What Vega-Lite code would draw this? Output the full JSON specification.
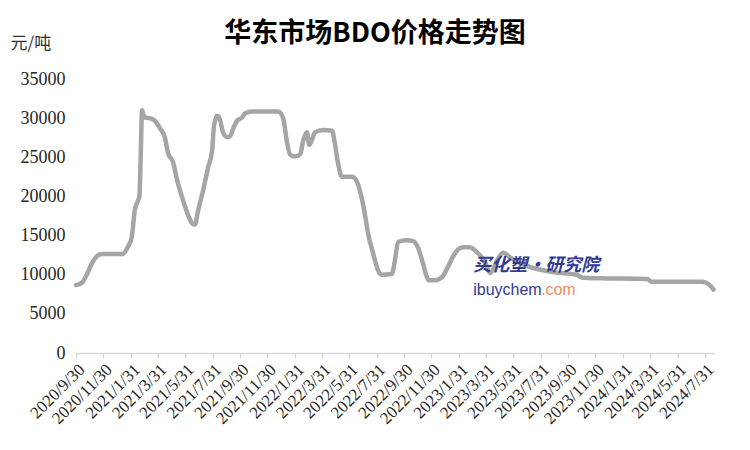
{
  "$schema": "https://vega.github.io/schema/vega-lite/v6.json",
  "width": 638,
  "height": 274,
  "autosize": {"type": "none"},
  "padding": {"left": 76, "top": 79, "right": 36, "bottom": 97},
  "background": "white",
  "title": {
    "text": "华东市场BDO价格走势图",
    "font": "Noto Sans CJK SC",
    "fontSize": 27,
    "fontWeight": "bold",
    "color": "#000000",
    "anchor": "middle",
    "frame": "group",
    "dx": -20,
    "offset": -14
  },
  "config": {"view": {"stroke": null}, "axis": {"labelOverlap": false}},
  "datasets": {
    "bdo": [
      {"date": "2020-09-30", "price": 8700},
      {"date": "2020-10-08", "price": 8800},
      {"date": "2020-10-15", "price": 9100},
      {"date": "2020-10-24", "price": 10000},
      {"date": "2020-11-05", "price": 11500},
      {"date": "2020-11-16", "price": 12400},
      {"date": "2020-11-27", "price": 12650},
      {"date": "2021-01-12", "price": 12650},
      {"date": "2021-01-23", "price": 13500},
      {"date": "2021-02-01", "price": 14800},
      {"date": "2021-02-08", "price": 18300},
      {"date": "2021-02-14", "price": 19300},
      {"date": "2021-02-18", "price": 20000},
      {"date": "2021-02-21", "price": 25000},
      {"date": "2021-02-24", "price": 31000},
      {"date": "2021-03-01", "price": 30100},
      {"date": "2021-03-12", "price": 30000},
      {"date": "2021-03-24", "price": 29700},
      {"date": "2021-04-05", "price": 28700},
      {"date": "2021-04-16", "price": 27500},
      {"date": "2021-04-23", "price": 25500},
      {"date": "2021-05-04", "price": 24400},
      {"date": "2021-05-13", "price": 22100},
      {"date": "2021-05-24", "price": 19900},
      {"date": "2021-06-04", "price": 18000},
      {"date": "2021-06-15", "price": 16600},
      {"date": "2021-06-22", "price": 16400},
      {"date": "2021-06-28", "price": 18000},
      {"date": "2021-07-10", "price": 20800},
      {"date": "2021-07-21", "price": 23700},
      {"date": "2021-07-30", "price": 25900},
      {"date": "2021-08-03", "price": 28900},
      {"date": "2021-08-10", "price": 30300},
      {"date": "2021-08-17", "price": 29700},
      {"date": "2021-08-23", "price": 28200},
      {"date": "2021-09-01", "price": 27600},
      {"date": "2021-09-08", "price": 27700},
      {"date": "2021-09-15", "price": 28700},
      {"date": "2021-09-24", "price": 29700},
      {"date": "2021-10-05", "price": 30100},
      {"date": "2021-10-11", "price": 30600},
      {"date": "2021-10-27", "price": 30850},
      {"date": "2021-12-24", "price": 30850},
      {"date": "2022-01-04", "price": 30000},
      {"date": "2022-01-13", "price": 26800},
      {"date": "2022-01-20", "price": 25300},
      {"date": "2022-01-31", "price": 25100},
      {"date": "2022-02-11", "price": 25400},
      {"date": "2022-02-18", "price": 27200},
      {"date": "2022-02-26", "price": 28200},
      {"date": "2022-03-03", "price": 26600},
      {"date": "2022-03-09", "price": 27200},
      {"date": "2022-03-16", "price": 28200},
      {"date": "2022-04-03", "price": 28500},
      {"date": "2022-04-23", "price": 28400},
      {"date": "2022-04-29", "price": 26800},
      {"date": "2022-05-06", "price": 24300},
      {"date": "2022-05-15", "price": 22500},
      {"date": "2022-06-07", "price": 22500},
      {"date": "2022-06-18", "price": 21800},
      {"date": "2022-06-29", "price": 19500},
      {"date": "2022-07-06", "price": 17400},
      {"date": "2022-07-12", "price": 15300},
      {"date": "2022-07-23", "price": 12800},
      {"date": "2022-08-03", "price": 10600},
      {"date": "2022-08-12", "price": 10000},
      {"date": "2022-09-03", "price": 10100},
      {"date": "2022-09-10", "price": 11900},
      {"date": "2022-09-17", "price": 14200},
      {"date": "2022-10-07", "price": 14400},
      {"date": "2022-10-20", "price": 14300},
      {"date": "2022-10-31", "price": 13500},
      {"date": "2022-11-11", "price": 11500},
      {"date": "2022-11-20", "price": 9700},
      {"date": "2022-11-24", "price": 9300},
      {"date": "2022-12-08", "price": 9300},
      {"date": "2022-12-24", "price": 9700},
      {"date": "2023-01-04", "price": 10800},
      {"date": "2023-01-17", "price": 12300},
      {"date": "2023-01-28", "price": 13200},
      {"date": "2023-02-08", "price": 13500},
      {"date": "2023-02-24", "price": 13500},
      {"date": "2023-03-07", "price": 13100},
      {"date": "2023-03-18", "price": 12500},
      {"date": "2023-03-30", "price": 11500},
      {"date": "2023-04-10", "price": 10200},
      {"date": "2023-04-25", "price": 11800},
      {"date": "2023-05-09", "price": 12800},
      {"date": "2023-05-24", "price": 12200},
      {"date": "2023-07-07", "price": 11000},
      {"date": "2023-08-31", "price": 10300},
      {"date": "2023-10-18", "price": 10000},
      {"date": "2023-11-04", "price": 9600},
      {"date": "2023-12-11", "price": 9550},
      {"date": "2024-03-24", "price": 9450},
      {"date": "2024-04-04", "price": 9100},
      {"date": "2024-07-26", "price": 9100},
      {"date": "2024-08-10", "price": 8700},
      {"date": "2024-08-19", "price": 8100}
    ],
    "logo_cn": [
      {"date": "2023-03-03", "price": 11100, "label": "买化塑·研究院"}
    ],
    "logo_en": [
      {"date": "2023-03-03", "price": 8050, "label": "ibuychem", "part": "a"},
      {"date": "2023-08-01", "price": 8050, "label": ".com", "part": "b"}
    ]
  },
  "layer": [
    {
      "data": {"name": "bdo"},
      "mark": {"type": "line", "color": "#a5a5a5", "strokeWidth": 4.5, "strokeCap": "round", "strokeJoin": "round", "interpolate": "monotone"},
      "encoding": {
        "x": {
          "field": "date",
          "type": "temporal",
          "scale": {
            "type": "utc",
            "domain": [
              {"year": 2020, "month": 9, "date": 30, "utc": true},
              {"year": 2024, "month": 8, "date": 20, "utc": true}
            ]
          },
          "axis": {
            "title": null,
            "tickCount": 40,
            "values": [
              {"year": 2020, "month": 9, "date": 30, "utc": true},
              {"year": 2020, "month": 11, "date": 30, "utc": true},
              {"year": 2021, "month": 1, "date": 31, "utc": true},
              {"year": 2021, "month": 3, "date": 31, "utc": true},
              {"year": 2021, "month": 5, "date": 31, "utc": true},
              {"year": 2021, "month": 7, "date": 31, "utc": true},
              {"year": 2021, "month": 9, "date": 30, "utc": true},
              {"year": 2021, "month": 11, "date": 30, "utc": true},
              {"year": 2022, "month": 1, "date": 31, "utc": true},
              {"year": 2022, "month": 3, "date": 31, "utc": true},
              {"year": 2022, "month": 5, "date": 31, "utc": true},
              {"year": 2022, "month": 7, "date": 31, "utc": true},
              {"year": 2022, "month": 9, "date": 30, "utc": true},
              {"year": 2022, "month": 11, "date": 30, "utc": true},
              {"year": 2023, "month": 1, "date": 31, "utc": true},
              {"year": 2023, "month": 3, "date": 31, "utc": true},
              {"year": 2023, "month": 5, "date": 31, "utc": true},
              {"year": 2023, "month": 7, "date": 31, "utc": true},
              {"year": 2023, "month": 9, "date": 30, "utc": true},
              {"year": 2023, "month": 11, "date": 30, "utc": true},
              {"year": 2024, "month": 1, "date": 31, "utc": true},
              {"year": 2024, "month": 3, "date": 31, "utc": true},
              {"year": 2024, "month": 5, "date": 31, "utc": true},
              {"year": 2024, "month": 7, "date": 31, "utc": true}
            ],
            "labelExpr": "utcFormat(datum.value, '%Y/%-m/%-d')",
            "labelAngle": -45,
            "labelFont": "Liberation Serif",
            "labelFontSize": 17,
            "labelColor": "#262626",
            "labelPadding": 3,
            "labelOverlap": false,
            "labelFlush": false,
            "labelBound": false,
            "grid": false,
            "domainColor": "#d9d9d9",
            "domainWidth": 1.5,
            "tickColor": "#d9d9d9",
            "tickWidth": 1.5,
            "tickSize": 5
          }
        },
        "y": {
          "field": "price",
          "type": "quantitative",
          "scale": {"domain": [0, 35000], "nice": false},
          "axis": {
            "title": "元/吨",
            "titleAngle": 0,
            "titleFont": "Noto Sans CJK SC",
            "titleFontSize": 17,
            "titleFontWeight": "normal",
            "titleColor": "#333333",
            "titleAlign": "left",
            "titleBaseline": "middle",
            "titleX": -66,
            "titleY": -36,
            "tickCount": 20,
            "values": [0, 5000, 10000, 15000, 20000, 25000, 30000, 35000],
            "format": "d",
            "labelFont": "Liberation Serif",
            "labelFontSize": 18,
            "labelColor": "#262626",
            "labelPadding": 11,
            "labelOverlap": false,
            "domain": false,
            "ticks": false,
            "grid": false
          }
        }
      }
    },
    {
      "data": {"name": "logo_cn"},
      "mark": {"type": "text", "align": "left", "baseline": "middle", "font": "Noto Sans CJK SC", "fontSize": 18, "fontWeight": "bold", "fontStyle": "italic", "color": "#333a94"},
      "encoding": {
        "x": {"field": "date", "type": "temporal"},
        "y": {"field": "price", "type": "quantitative"},
        "text": {"field": "label"}
      }
    },
    {
      "data": {"name": "logo_en"},
      "mark": {"type": "text", "align": "left", "baseline": "middle", "font": "Liberation Sans", "fontSize": 16},
      "encoding": {
        "x": {"field": "date", "type": "temporal"},
        "y": {"field": "price", "type": "quantitative"},
        "text": {"field": "label"},
        "color": {"field": "part", "type": "nominal", "scale": {"domain": ["a", "b"], "range": ["#333a94", "#f58b5b"]}, "legend": null}
      }
    }
  ]
}
